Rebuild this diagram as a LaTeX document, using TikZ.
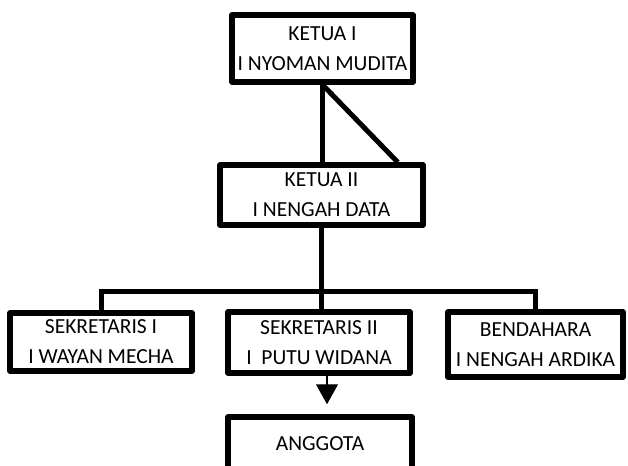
\documentclass[tikz,border=0pt]{standalone}
\usepackage{fontspec}
\setmainfont{Carlito}
\usetikzlibrary{arrows.meta}

\tikzset{
  kotak/.style={draw, line width=5.5pt, line join=round, align=center, inner sep=0pt,
    font=\fontsize{21.5}{30}\selectfont},
  garis/.style={line width=5pt}
}

\begin{document}
\begin{tikzpicture}[x=1pt,y=-1pt]
      \useasboundingbox (0,0) rectangle (628,465);
      \draw
        (322.5,48.5) node[kotak, minimum width=181, minimum height=67] (ketua1) {KETUA I\\I NYOMAN MUDITA}
        (321.5,195) node[kotak, minimum width=203, minimum height=60] (ketua2) {KETUA II\\I NENGAH DATA}
        (101,342) node[kotak, minimum width=182, minimum height=58] (sekre1) {SEKRETARIS I\\I WAYAN MECHA}
        (319,342.5) node[kotak, minimum width=182, minimum height=61] (sekre2) {SEKRETARIS II\\I\ \ PUTU WIDANA}
        (535.5,344.5) node[kotak, minimum width=175, minimum height=65] (benda) {BENDAHARA\\I NENGAH ARDIKA}
        (320,443.5) node[kotak, minimum width=184, minimum height=53] (anggota) {ANGGOTA};
      \begin{scope}[garis]
        \draw (ketua1.south) to (ketua1.south |- ketua2.north);
        \draw (ketua1.south) to ([xshift=-28]ketua2.north east);
        \draw (ketua2.south) to (ketua2.south |- sekre2.north);
        \draw (sekre1.north) -- ++(0,-19) -| (benda.north);
      \end{scope}
      \draw[line width=1.2pt, -{Triangle[width=22pt,length=20pt]}, shorten >=10pt]
        ([xshift=8]sekre2.south) to ([xshift=8]sekre2.south |- anggota.north);
    \end{tikzpicture}
\end{document}
